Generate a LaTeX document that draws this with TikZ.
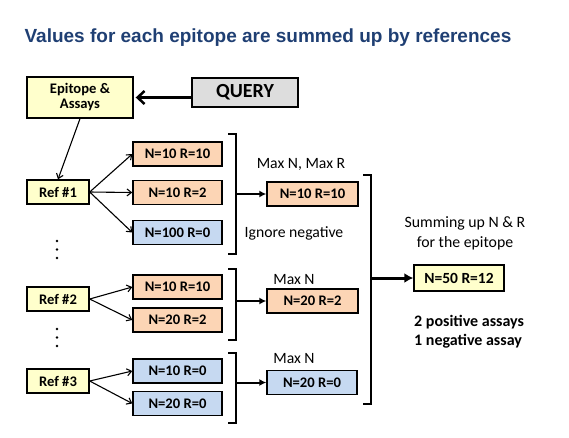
\documentclass[tikz,border=0pt]{standalone}
\usepackage{fontspec}
\setmainfont{Carlito}
\newfontfamily\titlefont{Liberation Sans}
\usetikzlibrary{arrows.meta}
\definecolor{ttl}{HTML}{1F3F73}
\definecolor{yel}{HTML}{FFFFCC}
\definecolor{org}{HTML}{FCD5B5}
\definecolor{blu}{HTML}{C6D9F1}
\definecolor{gry}{HTML}{DDDDDD}
\begin{document}
\begin{tikzpicture}[x=1pt,y=-1pt,
  box/.style={draw=black, line width=1.4pt, inner sep=0pt, align=center,
    font=\fontsize{14.6}{16}\selectfont\bfseries},
  refbox/.style={box, fill=yel, minimum width=62pt, minimum height=24pt},
  abox/.style={box, minimum width=89pt, minimum height=24pt},
  rbox/.style={box, minimum width=91pt, minimum height=24pt},
  lbl/.style={inner sep=0pt, font=\fontsize{15.7}{19}\selectfont},
  thin/.style={line width=1.1pt, -{Straight Barb[length=4.5pt,width=7pt,line width=1.1pt]}},
  brk/.style={line width=1.3pt},
  farr/.style={line width=2pt, -{Latex[length=7pt,width=7pt]}},
  dot/.style={fill=black, circle, inner sep=0pt, minimum size=2.6pt}
]
\useasboundingbox (0,0) rectangle (569,437);

\node[inner sep=0pt, text=ttl, font=\titlefont\bfseries\fontsize{19}{22}\selectfont] (title) at (268,38) {Values for each epitope are summed up by references};

\node[box, fill=yel, minimum width=106pt, minimum height=41pt] (epi) at (80,97.5) {Epitope \&\\[-1pt]Assays};
\node[box, fill=gry, minimum width=106pt, minimum height=29pt, font=\fontsize{20}{22}\selectfont\bfseries] (query) at (245,92.5) {QUERY};

\node[refbox] (ref1) at (58,192) {Ref \#1};
\node[refbox] (ref2) at (58,299) {Ref \#2};
\node[refbox] (ref3) at (58,381) {Ref \#3};

\node[abox, fill=org] (a1) at (177.5,154) {N=10 R=10};
\node[abox, fill=org] (a2) at (177.5,192.5) {N=10 R=2};
\node[abox, fill=blu] (a3) at (177.5,232.5) {N=100 R=0};
\node[abox, fill=org] (b1) at (177.5,287) {N=10 R=10};
\node[abox, fill=org] (b2) at (177.5,320) {N=20 R=2};
\node[abox, fill=blu] (c1) at (177.5,371) {N=10 R=0};
\node[abox, fill=blu] (c2) at (177.5,403.5) {N=20 R=0};

\node[rbox, fill=org] (r1) at (312.5,194) {N=10 R=10};
\node[rbox, fill=org] (r2) at (312.5,301) {N=20 R=2};
\node[rbox, fill=blu, minimum width=90pt] (r3) at (312,382.5) {N=20 R=0};

\node[box, fill=yel, minimum width=90pt, minimum height=26pt, font=\fontsize{15.5}{17}\selectfont\bfseries] (fin) at (459,278) {N=50 R=12};

\node[lbl] (l1) at (301,164) {Max N, Max R};
\node[lbl] (l2) at (294,233) {Ignore negative};
\node[lbl] (l3) at (294,280) {Max N};
\node[lbl] (l4) at (294,359) {Max N};
\node[lbl, align=center, font=\fontsize{15.8}{20}\selectfont] (l5) at (465,233) {Summing up N \& R\\for the epitope};
\node[lbl, align=left, anchor=west, font=\fontsize{16}{19}\selectfont\bfseries] (l6) at (414,331.5) {2 positive assays\\1 negative assay};

% dots
\node[dot] (d1) at (57,241) {};
\node[dot] (d2) at (57,249.5) {};
\node[dot] (d3) at (57,258) {};
\node[dot] (e1) at (57,329) {};
\node[dot] (e2) at (57,337.5) {};
\node[dot] (e3) at (57,346) {};

% arrows
\draw[line width=3pt, -{Straight Barb[length=7pt,width=13pt,line width=2.5pt]}] (query.west |- epi.east) -- ([xshift=2pt]epi.east);
\draw[thin] (epi.south) -- (ref1.north);
\draw[thin] (ref1.east) -- (a1.west);
\draw[thin] (ref1.east) -- (a2.west);
\draw[thin] (ref1.east) -- (a3.west);
\draw[thin] (ref2.east) -- (b1.west);
\draw[thin] (ref2.east) -- (b2.west);
\draw[thin] (ref3.east) -- (c1.west);
\draw[thin] (ref3.east) -- (c2.west);

% brackets
\draw[brk] (228,134) -- (236,134) -- (236,254) -- (228,254);
\draw[brk] (228,269) -- (236,269) -- (236,340) -- (228,340);
\draw[brk] (228,353) -- (236,353) -- (236,423) -- (228,423);
\draw[brk] (363,175) -- (371,175) -- (371,404) -- (363,404);

\coordinate (br1) at (236,194);
\coordinate (br2) at (236,301);
\coordinate (br3) at (236,382.5);
\coordinate (bb) at (371,278);
\draw[farr] (br1) -- (r1.west);
\draw[farr] (br2) -- (r2.west);
\draw[farr] (br3) -- (r3.west);
\draw[line width=3pt, -{Latex[length=9pt,width=10pt]}] (bb) -- (fin.west);
\end{tikzpicture}
\end{document}
